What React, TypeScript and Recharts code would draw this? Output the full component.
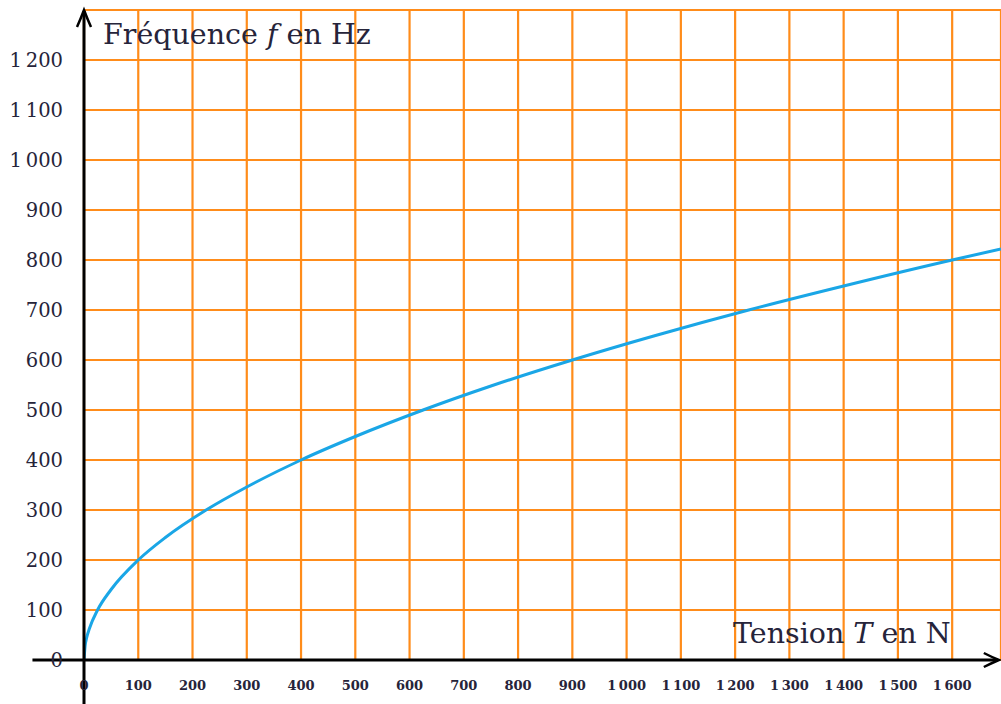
import React from 'react'
import { LineChart, Line, XAxis, YAxis, CartesianGrid, ReferenceLine } from 'recharts'

// tension T (N) and frequency f (Hz)
const tension = [0, 2, 5, 10, 25, 50, 100, 150, 225, 300, 400, 500, 625, 750, 900, 1050, 1225, 1400, 1600, 1690]
const frequence = [0, 28, 45, 63, 100, 141, 200, 245, 300, 346, 400, 447, 500, 548, 600, 648, 700, 748, 800, 822]

const xTicks = [0, 100, 200, 300, 400, 500, 600, 700, 800, 900, 1000, 1100, 1200, 1300, 1400, 1500, 1600]
const xTickLabels = ['0', '100', '200', '300', '400', '500', '600', '700', '800', '900', '1\u2009000', '1\u2009100', '1\u2009200', '1\u2009300', '1\u2009400', '1\u2009500', '1\u2009600']
const yTicks = [0, 100, 200, 300, 400, 500, 600, 700, 800, 900, 1000, 1100, 1200, 1300]
const yTickLabels = ['0', '100', '200', '300', '400', '500', '600', '700', '800', '900', '1\u2009000', '1\u2009100', '1\u2009200', '']

const data = tension.map((t, i) => ({ T: t, f: frequence[i] }))

const TEXT = '#26243a'
const SERIF = '"DejaVu Serif", "Liberation Serif", serif'

const YTick = ({ x, y, payload }: any) => {
  const label = yTickLabels[yTicks.indexOf(payload.value)]
  if (!label) return null
  return (
    <text x={x} y={y} textAnchor="end" dominantBaseline="central" fontFamily={SERIF} fontSize={19.5} fill={TEXT}>
      {label}
    </text>
  )
}

const XTick = ({ x, y, payload }: any) => (
  <text x={x} y={y} textAnchor="middle" dominantBaseline="central" fontFamily={SERIF} fontSize={13} fontWeight={600} fill={TEXT}>
    {xTickLabels[xTicks.indexOf(payload.value)]}
  </text>
)

const VArrow = (props: any) => {
  const { x1, y1, y2 } = props
  const top = Math.min(y1, y2)
  const bottom = Math.max(y1, y2)
  return (
    <g stroke="#000" fill="none" strokeWidth={3}>
      <line x1={x1} y1={bottom} x2={x1} y2={top + 1} />
      <path d={`M${x1 - 7},${top + 17} Q${x1 - 3},${top + 8} ${x1},${top} Q${x1 + 3},${top + 8} ${x1 + 7},${top + 17}`} strokeWidth={2.5} />
    </g>
  )
}

const HArrow = (props: any) => {
  const { x1, y1, x2 } = props
  const left = Math.min(x1, x2)
  const right = Math.max(x1, x2)
  return (
    <g stroke="#000" fill="none" strokeWidth={3}>
      <line x1={left} y1={y1} x2={right - 1} y2={y1} />
      <path d={`M${right - 15},${y1 - 7} Q${right - 7},${y1 - 3} ${right},${y1} Q${right - 7},${y1 + 3} ${right - 15},${y1 + 7}`} strokeWidth={2.5} />
    </g>
  )
}

export default function App() {
  return (
    <div style={{ position: 'absolute', left: 0, top: 0, background: '#fff' }}>
      <LineChart width={1001} height={704} data={data} margin={{ top: 10, right: 0, bottom: 14, left: 20 }}>
        <CartesianGrid stroke="#ff8c1a" strokeWidth={2.2} />
        <XAxis
          type="number"
          dataKey="T"
          domain={[0, 1690]}
          ticks={xTicks}
          allowDataOverflow
          axisLine={false}
          tickLine={false}
          tickSize={0}
          tickMargin={25}
          height={30}
          interval={0}
          tick={<XTick />}
          label={{
            content: () => (
              <text x={733} y={643} fontFamily={SERIF} fontSize={28.5} fill={TEXT}>
                Tension <tspan fontStyle="italic">T</tspan> en N
              </text>
            ),
          }}
        />
        <YAxis
          type="number"
          domain={[0, 1300]}
          ticks={yTicks}
          allowDataOverflow
          axisLine={false}
          tickLine={false}
          tickSize={0}
          tickMargin={21}
          width={64}
          interval={0}
          tick={<YTick />}
          label={{
            content: () => (
              <text x={103} y={44} fontFamily={SERIF} fontSize={28.5} fill={TEXT}>
                Fréquence <tspan fontStyle="italic">f</tspan> en Hz
              </text>
            ),
          }}
        />
        <Line
          type="monotone"
          dataKey="f"
          stroke="#1aa6e6"
          strokeWidth={3}
          dot={false}
          activeDot={false}
          isAnimationActive={false}
        />
        <ReferenceLine
          segment={[{ x: -95, y: 0 }, { x: 1686, y: 0 }]}
          ifOverflow="visible"
          shape={<HArrow />}
        />
        <ReferenceLine
          segment={[{ x: 0, y: -90 }, { x: 0, y: 1300 }]}
          ifOverflow="visible"
          shape={<VArrow />}
        />
      </LineChart>
    </div>
  )
}
